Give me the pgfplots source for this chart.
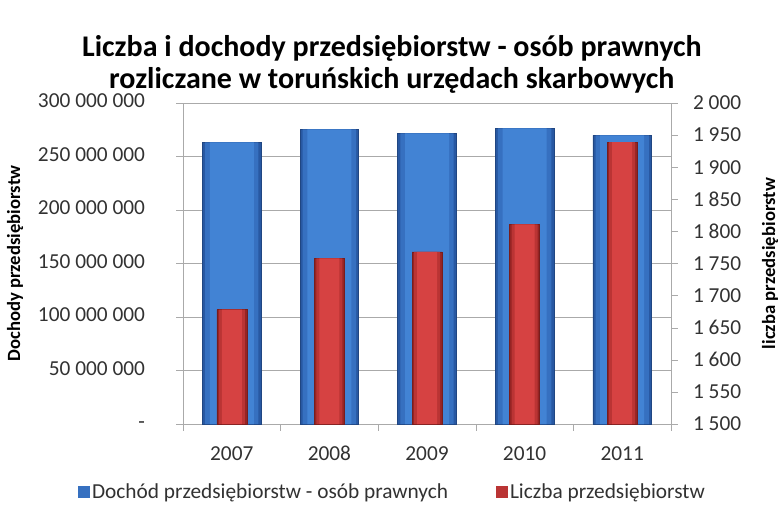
\documentclass[border=0pt]{standalone}
\usepackage{fontspec}
\setmainfont{Carlito}
\usepackage{pgfplots}
\usepackage{pgfplotstable}
\pgfplotsset{compat=1.18}

\definecolor{blueC}{RGB}{66,131,212}
\definecolor{blueM}{RGB}{54,112,192}
\definecolor{blueE}{RGB}{40,88,162}
\definecolor{redC}{RGB}{214,66,66}
\definecolor{redM}{RGB}{186,52,52}
\definecolor{redE}{RGB}{150,36,36}
\definecolor{gridgray}{RGB}{170,170,170}
\definecolor{txt}{RGB}{50,50,50}

\pgfplotstableread{
x y
0 263300000
1 275400000
2 271700000
3 276400000
4 269800000
}\dochody

\pgfplotstableread{
x y
0 1678
1 1758
2 1768
3 1811
4 1939
}\liczba

\begin{document}
\begin{tikzpicture}
\path[use as bounding box] (-137.25pt,-61.5pt) rectangle (447.75pt,318pt);

% left axis: income
\begin{axis}[
    width=366pt, height=240.75pt, scale only axis,
    xmin=-0.5, xmax=4.5,
    ymin=0, ymax=300000000,
    scaled y ticks=false,
    axis y line*=left, axis x line*=bottom,
    axis line style={gridgray},
    xtick={0,1,2,3,4},
    xticklabels={2007,2008,2009,2010,2011},
    minor xtick={-0.5,0.5,1.5,2.5,3.5,4.5},
    major x tick style={draw=none},
    minor x tick style={draw=gridgray},
    minor tick length=5pt,
    ytick={0,50000000,100000000,150000000,200000000,250000000,300000000},
    yticklabels={{-\hspace{6pt}},50 000 000,100 000 000,150 000 000,200 000 000,250 000 000,300 000 000},
    tick align=outside, major tick length=5pt,
    y tick style={draw=gridgray},
    ymajorgrids, grid style={draw=gridgray},
    typeset ticklabels with strut,
    tick label style={font=\fontsize{16}{18}\selectfont, text=txt},
    yticklabel style={xshift=-20pt},
    xticklabel style={yshift=-6pt},
    every axis y label/.style={at={(axis description cs:-0.344,0.5)}, anchor=center, rotate=90,
        font=\fontsize{14}{16}\selectfont\bfseries},
    ylabel={Dochody przedsiębiorstw},
    title style={at={(axis description cs:0.428,1.095)}, anchor=center, align=center, inner sep=0pt,
        font=\fontsize{22.5}{24}\selectfont\bfseries},
    title={Liczba i dochody przedsiębiorstw - osób prawnych\\rozliczane w toruńskich urzędach skarbowych},
]
\addplot[ybar, bar width=44pt, fill=blueE, draw=blueE!80!black] table {\dochody};
\addplot[ybar, bar width=40pt, fill=blueM, draw=none] table {\dochody};
\addplot[ybar, bar width=33pt, fill=blueC, draw=none] table {\dochody};
\end{axis}

% right axis: number of companies
\begin{axis}[
    width=366pt, height=240.75pt, scale only axis,
    xmin=-0.5, xmax=4.5,
    ymin=1500, ymax=2000,
    axis y line*=right, axis x line=none,
    axis line style={gridgray},
    ytick={1500,1550,1600,1650,1700,1750,1800,1850,1900,1950,2000},
    yticklabels={1 500,1 550,1 600,1 650,1 700,1 750,1 800,1 850,1 900,1 950,2 000},
    tick align=outside, major tick length=5pt,
    y tick style={draw=gridgray},
    tick label style={font=\fontsize{16}{18}\selectfont, text=txt},
    yticklabel style={xshift=8pt},
    every axis y label/.style={at={(axis description cs:1.203,0.5)}, anchor=center, rotate=90,
        font=\fontsize{14}{16}\selectfont\bfseries},
    ylabel={liczba przedsiębiorstw},
    legend style={at={(axis description cs:0.43,-0.212)}, anchor=center, draw=none,
        legend columns=2, font=\fontsize{16}{18}\selectfont, text=txt,
        /tikz/every even column/.append style={column sep=34pt}},
]
\addlegendimage{legend image code/.code={\fill[blueM] (0pt,-4pt) rectangle (8pt,4pt);}}
\addlegendentry{Dochód przedsiębiorstw - osób prawnych}
\addplot[ybar, bar width=22.5pt, fill=redE, draw=redE!80!black,
    legend image code/.code={\fill[redM] (0pt,-4pt) rectangle (8pt,4pt);}]
  table {\liczba};
\addlegendentry{Liczba przedsiębiorstw}
\addplot[ybar, bar width=19.5pt, fill=redM, draw=none, forget plot] table {\liczba};
\addplot[ybar, bar width=15pt, fill=redC, draw=none, forget plot] table {\liczba};
\end{axis}
\end{tikzpicture}
\end{document}
